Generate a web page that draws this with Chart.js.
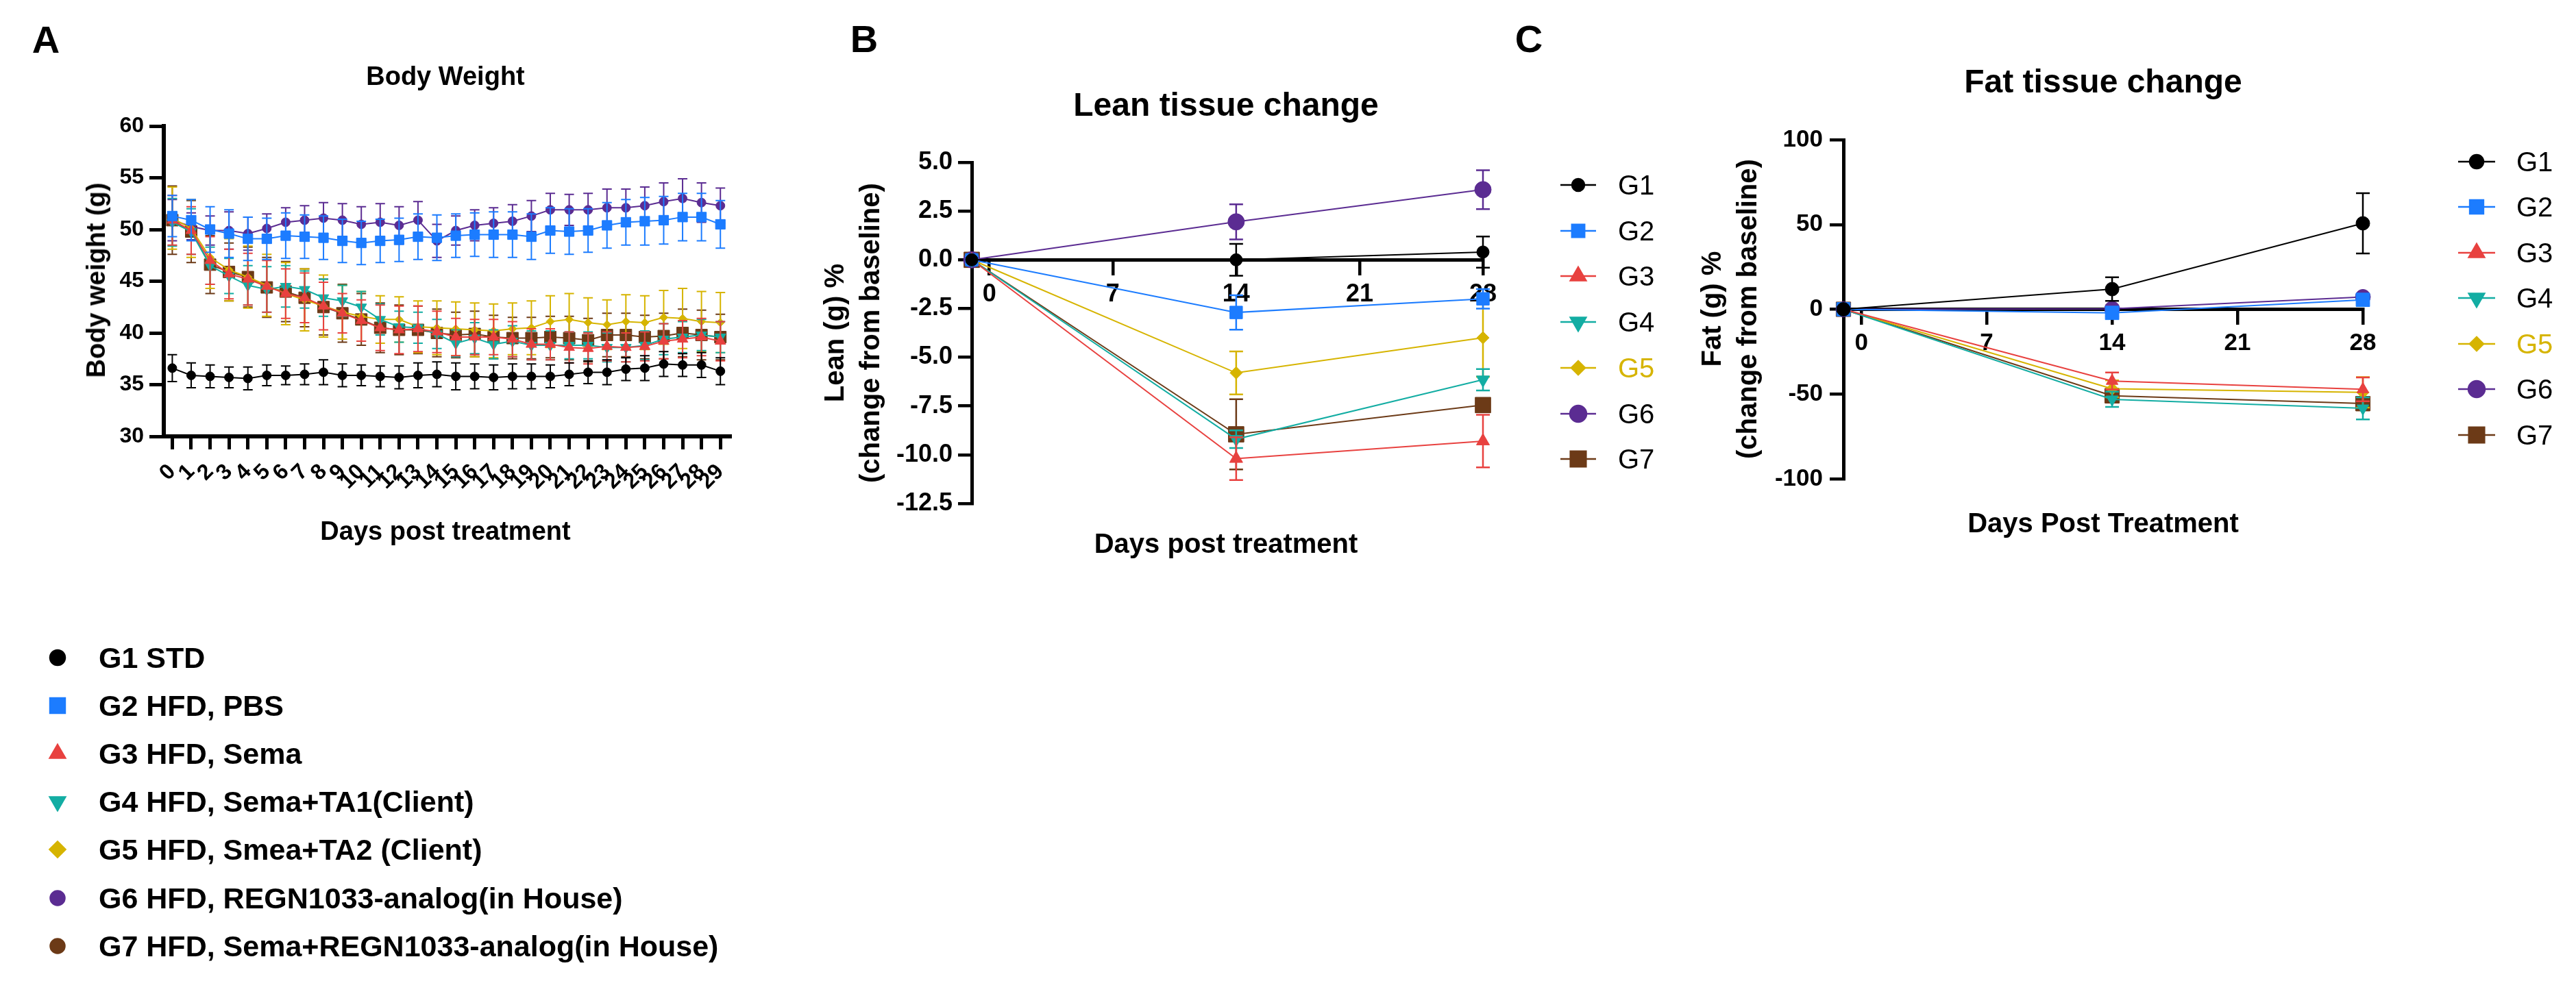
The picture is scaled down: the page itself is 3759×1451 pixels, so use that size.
<!DOCTYPE html>
<html>
<head>
<meta charset="utf-8">
<script src="https://cdn.jsdelivr.net/npm/chart.js@4.4.0/dist/chart.umd.min.js"></script>
<style>
html,body{margin:0;padding:0;background:#fff;}
#page{position:relative;width:3759px;height:1451px;overflow:hidden;background:#fff;font-family:'Liberation Sans',Arial,sans-serif;color:#000;}
canvas{position:absolute;left:0;top:0;}
.t{position:absolute;white-space:nowrap;line-height:1;transform:translate(-50%,-50%);font-weight:bold;}
.v{transform:translate(-50%,-50%) rotate(-90deg);text-align:center;}
.letter{font-family:'Liberation Sans Narrow','Liberation Sans',Arial,sans-serif;font-size:56px;}
.lab{position:absolute;white-space:nowrap;line-height:1;transform:translateY(-50%);font-size:40px;}
</style>
</head>
<body>
<div id="page">
  <canvas id="bw" width="3759" height="1451"></canvas>
  <canvas id="lean" width="3759" height="1451"></canvas>
  <canvas id="fat" width="3759" height="1451"></canvas>

  <div class="t letter" style="left:67px;top:58px">A</div>
  <div class="t letter" style="left:1261px;top:57px">B</div>
  <div class="t letter" style="left:2231px;top:57px">C</div>

  <div class="t" style="left:650px;top:111px;font-size:38px">Body Weight</div>
  <div class="t v" style="left:140px;top:409px;font-size:38px">Body weight (g)</div>
  <div class="t" style="left:650px;top:775px;font-size:38px">Days post treatment</div>

  <div class="t" style="left:1789px;top:153px;font-size:48px">Lean tissue change</div>
  <div class="t v" style="left:1243px;top:486px;font-size:40px;line-height:52px">Lean (g) %<br>(change from baseline)</div>
  <div class="t" style="left:1789px;top:793px;font-size:40px">Days post treatment</div>

  <div class="t" style="left:3069px;top:119px;font-size:48px">Fat tissue change</div>
  <div class="t v" style="left:2523px;top:451px;font-size:40px;line-height:52px">Fat (g) %<br>(change from baseline)</div>
  <div class="t" style="left:3069px;top:763px;font-size:40px">Days Post Treatment</div>

  <div id="legA"></div>
  <div id="legB"></div>
  <div id="legC"></div>
</div>

<script>
// ---- data ----
const days = [0,1,2,3,4,5,6,7,8,9,10,11,12,13,14,15,16,17,18,19,20,21,22,23,24,25,26,27,28,29];
const weightTicks = [30,35,40,45,50,55,60];

const bwG1 = [36.6,35.9,35.8,35.7,35.6,35.9,35.9,36.0,36.2,35.9,35.9,35.8,35.7,35.9,36.0,35.8,35.8,35.7,35.8,35.8,35.8,36.0,36.2,36.2,36.5,36.6,37.0,36.9,36.9,36.3];
const bwG2 = [51.3,50.9,50.0,49.6,49.1,49.1,49.4,49.3,49.2,48.9,48.7,48.9,49.0,49.3,49.2,49.4,49.5,49.5,49.5,49.3,49.9,49.8,49.9,50.4,50.7,50.8,50.9,51.2,51.2,50.5];
const bwG3 = [50.9,49.9,47.0,45.7,45.2,44.5,43.8,43.4,42.6,41.9,41.2,40.5,40.3,40.4,40.1,39.6,39.6,39.6,39.4,38.9,38.9,38.6,38.5,38.7,38.6,38.7,39.2,39.4,39.6,39.2];
const bwG4 = [50.7,49.8,46.5,45.5,44.6,44.2,44.5,44.2,43.4,43.1,42.5,41.3,40.6,40.5,39.9,39.0,39.5,38.9,39.2,38.8,38.8,38.8,38.8,38.6,38.6,38.8,39.4,39.6,39.8,39.6];
const bwG5 = [51.1,50.1,47.3,46.1,45.4,44.6,43.8,43.2,42.6,42.0,41.6,41.3,41.3,40.6,40.5,40.4,40.3,40.2,40.4,40.5,41.1,41.3,41.0,40.8,41.1,41.0,41.5,41.4,41.1,41.0];
const bwG6 = [50.9,50.3,49.9,49.9,49.6,50.1,50.7,50.9,51.1,50.9,50.5,50.7,50.4,50.9,48.9,49.9,50.4,50.6,50.8,51.3,51.9,51.9,51.9,52.1,52.1,52.3,52.7,53.0,52.6,52.3];
const bwG7 = [50.9,49.8,46.6,45.9,45.4,44.4,44.0,43.4,42.5,41.9,41.3,40.5,40.3,40.3,40.0,39.8,39.9,39.6,39.5,39.5,39.6,39.5,39.3,39.8,39.8,39.6,39.7,40.0,39.8,39.6];

const bwG1Sd = [1.3,1.2,1.1,1.0,1.1,1.0,0.9,1.0,1.2,1.1,1.0,1.0,1.1,1.2,1.2,1.3,1.2,1.2,1.2,1.2,1.1,1.1,1.1,1.2,1.1,1.2,1.2,1.1,1.2,1.3];
const bwG2Sd = [2.0,2.0,2.2,2.3,2.1,2.0,2.2,2.1,2.1,2.1,2.1,2.1,2.1,2.2,2.2,2.1,2.1,2.2,2.2,2.2,2.2,2.2,2.1,2.2,2.2,2.3,2.3,2.3,2.3,2.3];
const bwG3Sd = [2.4,2.3,2.3,2.4,2.5,2.5,2.4,2.4,2.3,1.9,2.0,2.2,2.3,2.2,2.0,1.8,1.7,1.7,1.7,1.5,1.5,1.5,1.5,1.4,1.4,1.4,1.7,1.8,1.8,1.9];
const bwG4Sd = [2.3,2.2,1.8,1.7,1.9,2.2,2.0,1.8,1.8,1.5,1.5,1.5,1.5,1.5,1.4,1.3,1.5,1.4,1.5,1.4,1.4,1.3,1.3,1.4,1.4,1.4,1.5,1.5,1.5,1.5];
const bwG5Sd = [3.0,2.8,3.0,3.0,3.0,3.0,3.0,3.0,3.0,2.6,2.4,2.3,2.2,2.5,2.6,2.6,2.6,2.6,2.5,2.6,2.5,2.5,2.4,2.4,2.6,2.6,2.6,2.9,2.9,2.9];
const bwG6Sd = [2.0,1.3,1.4,1.8,1.6,1.4,1.4,1.4,1.5,1.6,1.7,1.8,1.8,1.8,1.6,1.4,1.5,1.5,1.6,1.5,1.6,1.5,1.6,1.8,1.8,1.8,1.8,1.9,1.9,1.7];
const bwG7Sd = [3.3,3.0,2.8,2.8,2.9,2.9,2.9,2.8,2.7,2.8,2.5,2.4,2.4,2.3,2.3,2.2,2.2,2.1,2.0,2.0,2.0,2.1,2.1,2.1,2.1,2.1,2.2,2.3,2.4,2.2];

// baseline point sits on the y axis (day -1), scans at day 14 and 28
const scanDays = [-1, 14, 28];
const scanTicks = [0, 7, 14, 21, 28];
const leanTicks = [-12.5,-10,-7.5,-5,-2.5,0,2.5,5];
const fatTicks = [-100,-50,0,50,100];

const leanG1 = [0, 0.0, 0.4];     const leanG1Sd = [0, 0.82, 0.8];
const leanG2 = [0, -2.7, -2.0];   const leanG2Sd = [0, 0.88, 0.5];
const leanG3 = [0, -10.2, -9.3];  const leanG3Sd = [0, 1.1, 1.35];
const leanG4 = [0, -9.2, -6.15];  const leanG4Sd = [0, 0.45, 0.55];
const leanG5 = [0, -5.8, -4.0];   const leanG5Sd = [0, 1.1, 2.0];
const leanG6 = [0, 1.95, 3.6];    const leanG6Sd = [0, 0.9, 1.0];
const leanG7 = [0, -8.95, -7.45]; const leanG7Sd = [0, 1.8, 0.35];

const fatG1 = [0, 11.9, 50.7];  const fatG1Sd = [0, 7, 17.8];
const fatG2 = [0, -2.1, 5.6];   const fatG2Sd = [0, 2, 2];
const fatG3 = [0, -42.3, -47.2]; const fatG3Sd = [0, 5, 7];
const fatG4 = [0, -53.1, -58.4]; const fatG4Sd = [0, 4.5, 6.5];
const fatG5 = [0, -46.9, -49.0]; const fatG5Sd = [0, 5, 9];
const fatG6 = [0, 0.3, 7.3];    const fatG6Sd = [0, 2, 2];
const fatG7 = [0, -51.0, -55.6]; const fatG7Sd = [0, 4, 4];

const groups = ['G1','G2','G3','G4','G5','G6','G7'];
const groupNames = ['G1 STD','G2 HFD, PBS','G3 HFD, Sema','G4 HFD, Sema+TA1(Client)','G5 HFD, Smea+TA2 (Client)','G6 HFD, REGN1033-analog(in House)','G7 HFD, Sema+REGN1033-analog(in House)'];
const colors = ['#000000','#1C7CFF','#E8413F','#13ADA3','#D6B400','#5B2C92','#6C3A17'];
const shapes = ['circle','rect','triangle','triangle','rectRot','circle','rect'];
const legendShapesA = ['circle','rect','triangle','triangle','rectRot','circle','circle'];
const turns = [0,0,0,180,0,0,0];

const bwSets = [bwG1,bwG2,bwG3,bwG4,bwG5,bwG6,bwG7];
const bwSds = [bwG1Sd,bwG2Sd,bwG3Sd,bwG4Sd,bwG5Sd,bwG6Sd,bwG7Sd];
const leanSets = [leanG1,leanG2,leanG3,leanG4,leanG5,leanG6,leanG7];
const leanSds = [leanG1Sd,leanG2Sd,leanG3Sd,leanG4Sd,leanG5Sd,leanG6Sd,leanG7Sd];
const fatSets = [fatG1,fatG2,fatG3,fatG4,fatG5,fatG6,fatG7];
const fatSds = [fatG1Sd,fatG2Sd,fatG3Sd,fatG4Sd,fatG5Sd,fatG6Sd,fatG7Sd];

// ---- helpers ----
const W = 3759, H = 1451;

function mark(ctx, style, rot, r, x, y){
  if (Chart.helpers && Chart.helpers.drawPoint) {
    Chart.helpers.drawPoint(ctx, {pointStyle: style, rotation: rot, radius: r, borderWidth: 1}, x, y);
    return;
  }
  ctx.beginPath(); ctx.arc(x, y, r, 0, Math.PI*2); ctx.fill();
}

// error bars drawn under each dataset
const errorBars = {
  id: 'errorBars',
  beforeDatasetDraw(chart, args, o){
    const ds = chart.data.datasets[args.index];
    if (!ds.errors) return;
    const ctx = chart.ctx, ys = chart.scales.y;
    ctx.save();
    ctx.strokeStyle = ds.borderColor;
    ctx.lineWidth = o.width;
    args.meta.data.forEach((pt, i) => {
      const e = ds.errors[i];
      if (!e) return;
      const v = ds.data[i].y;
      const t = ys.getPixelForValue(v + e), b = ys.getPixelForValue(v - e);
      ctx.beginPath();
      ctx.moveTo(pt.x, t); ctx.lineTo(pt.x, b);
      ctx.moveTo(pt.x - o.cap, t); ctx.lineTo(pt.x + o.cap, t);
      ctx.moveTo(pt.x - o.cap, b); ctx.lineTo(pt.x + o.cap, b);
      ctx.stroke();
    });
    ctx.restore();
  }
};

// legend symbols (text is html)
const legendMarks = {
  id: 'legendMarks',
  afterDraw(chart, args, o){
    if (!o.rows) return;
    const ctx = chart.ctx;
    const sh = o.shapes || shapes;
    chart.data.datasets.forEach((ds, i) => {
      const y = o.rows[i];
      ctx.save();
      ctx.strokeStyle = ds.borderColor;
      ctx.fillStyle = ds.borderColor;
      ctx.lineWidth = 2.5;
      if (o.half) {
        ctx.beginPath(); ctx.moveTo(o.x - o.half, y); ctx.lineTo(o.x + o.half, y); ctx.stroke();
      }
      mark(ctx, sh[i], turns[i], o.radius[i], o.x, y);
      ctx.restore();
    });
  }
};

function makeSets(xs, sets, sds, radius, lw){
  return sets.map((s, k) => ({
    label: groups[k],
    data: xs.map((x, i) => ({x: x, y: s[i]})),
    errors: sds[k],
    borderColor: colors[k],
    backgroundColor: colors[k],
    pointBackgroundColor: colors[k],
    pointBorderColor: colors[k],
    pointBorderWidth: 1,
    pointStyle: shapes[k],
    pointRotation: turns[k],
    pointRadius: radius[k],
    borderWidth: lw,
    tension: 0,
    clip: false
  }));
}

function axisStyle(tickLen, lw, bw){
  return {
    grid: {drawOnChartArea: false, drawTicks: true, tickLength: tickLen, lineWidth: lw, color: '#000'},
    border: {display: true, width: bw, color: '#000'}
  };
}

Chart.defaults.font.family = "'Liberation Sans', Arial, sans-serif";
Chart.defaults.color = '#000';

// ---- A: body weight ----
const A = {left: 239, top: 184, right: 1065, bottom: 637};
const AY = 150, AX = 100;
new Chart(document.getElementById('bw'), {
  type: 'line',
  data: {datasets: makeSets(days, bwSets, bwSds, [6.5,10,9,9,6,6.5,12], 2)},
  options: {
    responsive: false, animation: false, devicePixelRatio: 1,
    layout: {padding: {left: A.left - AY, top: A.top, right: W - A.right, bottom: H - A.bottom - AX}},
    plugins: {
      legend: {display: false}, tooltip: {enabled: false},
      errorBars: {cap: 7, width: 2},
      legendMarks: {x: 84, half: 0, shapes: legendShapesA, rows: [960,1030,1100,1170,1240,1311,1381], radius: [11,15.5,13,13,11.5,10.5,10.5]}
    },
    scales: {
      x: Object.assign({
        type: 'linear', min: -0.45, max: 29.5,
        afterBuildTicks: s => { s.ticks = days.map(v => ({value: v})); },
        afterFit: s => { s.height = AX; },
        ticks: {autoSkip: false, minRotation: 45, maxRotation: 45, padding: 14, font: {size: 32, weight: 'bold'}}
      }, axisStyle(19, 5, 6)),
      y: Object.assign({
        min: 30, max: 60,
        afterBuildTicks: s => { s.ticks = weightTicks.map(v => ({value: v})); },
        afterFit: s => { s.width = AY; },
        ticks: {padding: 8, font: {size: 32, weight: 'bold'}}
      }, axisStyle(21, 5, 6))
    }
  },
  plugins: [errorBars, legendMarks]
});

// ---- B: lean ----
const B = {left: 1418, top: 237, right: 2164, bottom: 735};
const BY = 150;
new Chart(document.getElementById('lean'), {
  type: 'line',
  data: {datasets: makeSets(scanDays, leanSets, leanSds, [9,13,11,11,9,12,16], 2)},
  options: {
    responsive: false, animation: false, devicePixelRatio: 1,
    layout: {padding: {left: B.left - BY, top: B.top, right: W - B.right, bottom: H - B.bottom}},
    plugins: {
      legend: {display: false}, tooltip: {enabled: false},
      errorBars: {cap: 10, width: 2.5},
      legendMarks: {x: 2303, half: 26, rows: [270,337,403,470,537,604,670], radius: [9,13,13,13,10,12,16]}
    },
    scales: {
      x: Object.assign({
        type: 'linear', min: -1, max: 28, position: {y: 0},
        afterBuildTicks: s => { s.ticks = scanTicks.map(v => ({value: v})); },
        ticks: {autoSkip: false, maxRotation: 0, padding: 9, font: {size: 36, weight: 'bold'}}
      }, axisStyle(20, 4.5, 5)),
      y: Object.assign({
        min: -12.5, max: 5,
        afterBuildTicks: s => { s.ticks = leanTicks.map(v => ({value: v})); },
        afterFit: s => { s.width = BY; },
        ticks: {padding: 8, font: {size: 36, weight: 'bold'}, callback: v => v.toFixed(1)}
      }, axisStyle(20, 4.5, 5))
    }
  },
  plugins: [errorBars, legendMarks]
});

// ---- C: fat ----
const C = {left: 2690, top: 204, right: 3448, bottom: 699};
const CY = 150;
new Chart(document.getElementById('fat'), {
  type: 'line',
  data: {datasets: makeSets(scanDays, fatSets, fatSds, [10,14,10,10,9,11,15], 2)},
  options: {
    responsive: false, animation: false, devicePixelRatio: 1,
    layout: {padding: {left: C.left - CY, top: C.top, right: W - C.right, bottom: H - C.bottom}},
    plugins: {
      legend: {display: false}, tooltip: {enabled: false},
      errorBars: {cap: 10, width: 2.5},
      legendMarks: {x: 3614, half: 27, rows: [236,302,369,435,502,568,635], radius: [10,14,13,13,10,12,16]}
    },
    scales: {
      x: Object.assign({
        type: 'linear', min: -1, max: 28, position: {y: 0},
        afterBuildTicks: s => { s.ticks = scanTicks.map(v => ({value: v})); },
        ticks: {autoSkip: false, maxRotation: 0, padding: 9, font: {size: 35, weight: 'bold'}}
      }, axisStyle(20, 4.5, 5)),
      y: Object.assign({
        min: -100, max: 100,
        afterBuildTicks: s => { s.ticks = fatTicks.map(v => ({value: v})); },
        afterFit: s => { s.width = CY; },
        ticks: {padding: 10, font: {size: 35, weight: 'bold'}}
      }, axisStyle(20, 4.5, 5))
    }
  },
  plugins: [errorBars, legendMarks]
});

// ---- html legend labels ----
function labels(id, names, left, rows, bold, size){
  const box = document.getElementById(id);
  names.forEach((n, i) => {
    const d = document.createElement('div');
    d.className = 'lab';
    d.textContent = n;
    d.style.left = left + 'px';
    d.style.top = rows[i] + 'px';
    d.style.fontSize = size + 'px';
    d.style.fontWeight = bold ? 'bold' : 'normal';
    if (!bold && i === 4) d.style.color = colors[4];
    box.appendChild(d);
  });
}
labels('legA', groupNames, 144, [960,1030,1100,1170,1240,1311,1381], true, 43);
labels('legB', groups, 2361, [270,337,403,470,537,604,670], false, 40);
labels('legC', groups, 3672, [236,302,369,435,502,568,635], false, 40);
</script>
</body>
</html>
